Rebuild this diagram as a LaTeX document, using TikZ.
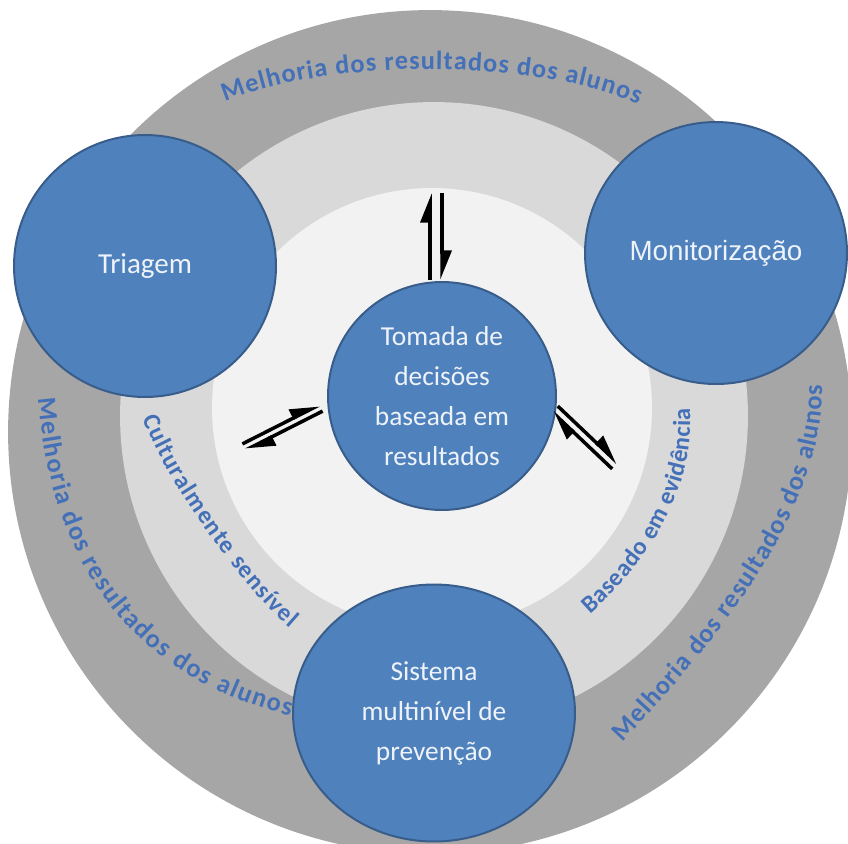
\documentclass[tikz,border=0pt]{standalone}
\usepackage{fontspec}
\setmainfont{Carlito}
\newfontfamily\arialfont{Liberation Sans}
\usetikzlibrary{arrows.meta,calc,decorations.text,shapes.geometric}

\definecolor{ringdark}{RGB}{166,166,166}
\definecolor{ringmid}{RGB}{217,217,217}
\definecolor{ringlight}{RGB}{242,242,242}
\definecolor{bubblefill}{RGB}{79,129,189}
\definecolor{bubbleedge}{RGB}{56,93,138}
\definecolor{bubbletext}{RGB}{238,243,250}
\definecolor{ringtext}{RGB}{68,112,184}

\tikzset{
	ring/.style={circle,draw=none,inner sep=0pt},
	bubble/.style={circle,draw=bubbleedge,line width=0.04cm,fill=bubblefill,text=bubbletext,
		align=center,inner sep=0pt,font=\fontsize{15.6}{22.8}\selectfont},
	harp/.style={-{Triangle[harpoon,length=0.5cm,width=0.38cm]},line width=0.07cm},
	arctext/.style 2 args={decorate,decoration={text along path,text align={fit to path},text color=ringtext,
		text={|\fontsize{#1}{16}\selectfont\bfseries|#2}}}
}

\begin{document}
\begin{tikzpicture}[x=0.02cm,y=-0.02cm]
			\useasboundingbox (0,0) rectangle (848,843);
			
			% the three rings
			\node[ring,fill=ringdark,minimum size=16.88cm] (outer) at (430,432) {};
			\node[ring,fill=ringmid,minimum size=12.56cm] (middle) at (434,416) {};
			\node[ring,fill=ringlight,minimum size=8.8cm] (inner) at (432,408) {};
			
			% words along the rings
			\path[arctext={15}{Melhoria dos resultados dos alunos}] (225,102) .. controls (330,58) and (530,58) .. (638,104);
			\path[arctext={15}{Melhoria dos resultados dos alunos}] (38,398) .. controls (50,540) and (110,670) .. (290,716);
			\path[arctext={15}{Melhoria dos resultados dos alunos}] (622,742) .. controls (700,660) and (825,520) .. (822,385);
			\path[arctext={14}{Culturalmente sensível}] (143,418) .. controls (165,480) and (245,590) .. (290,628);
			\path[arctext={14}{Baseado em evidência}] (590,614) .. controls (640,570) and (695,500) .. (690,408);
			
			\node[bubble,minimum size=4.56cm] (tomada) at (442,396) {Tomada de\\decisões\\baseada em\\resultados};
			
			\coordinate (tin) at (436,280);
			\coordinate (tout) at (436,193);
			\coordinate (lin) at (321,408);
			\coordinate (lout) at (244,447);
			\coordinate (rin) at (555,409);
			\coordinate (rout) at (615,466);
			
			\path[draw,harp] ($(tin)!1.2mm!90:(tout)$) -- ($(tout)!1.2mm!-90:(tin)$);
			\path[draw,harp] ($(tout)!1.2mm!90:(tin)$) -- ($(tin)!1.2mm!-90:(tout)$);
			\path[draw,harp] ($(lout)!0.7mm!90:(lin)$) -- ($(lin)!0.7mm!-90:(lout)$);
			\path[draw,harp] ($(lin)!0.7mm!90:(lout)$) -- ($(lout)!0.7mm!-90:(lin)$);
			\path[draw,harp] ($(rout)!0.8mm!90:(rin)$) -- ($(rin)!0.8mm!-90:(rout)$);
			\path[draw,harp] ($(rin)!0.8mm!90:(rout)$) -- ($(rout)!0.8mm!-90:(rin)$);
			
			\node[bubble,minimum size=5.24cm,font=\fontsize{16.5}{20}\selectfont] (triagem) at (145,266) {Triagem};
			\node[bubble,minimum size=5.24cm,font=\arialfont\fontsize{15.8}{19}\selectfont] (monit) at (716,253) {Monitorização};
			\node[bubble,ellipse,minimum width=5.64cm,minimum height=5.14cm] (sistema) at (434,713) {Sistema\\multinível de\\prevenção};
		\end{tikzpicture}
\end{document}
